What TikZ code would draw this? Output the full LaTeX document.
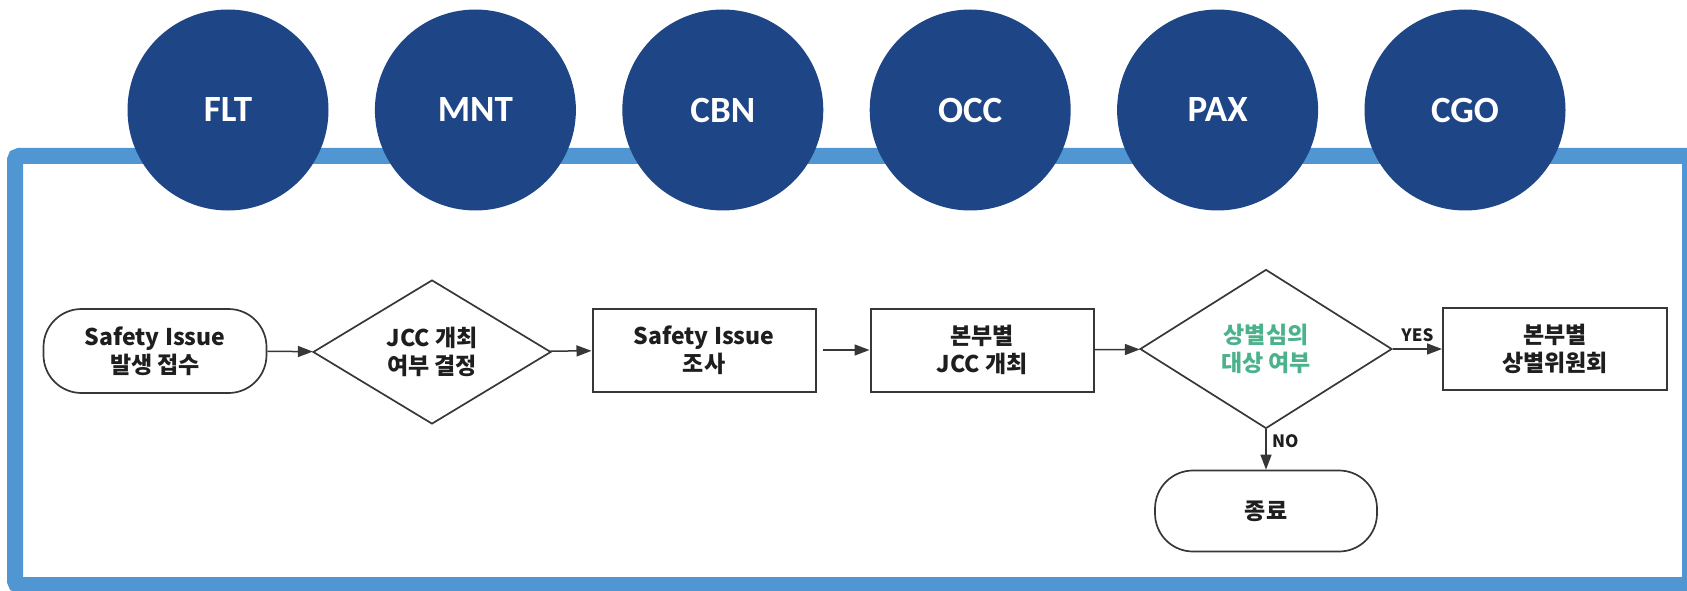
\documentclass[tikz,border=0pt]{standalone}
\usepackage{fontspec}
\setmainfont{Carlito}
\newfontfamily\krfont{Noto Sans CJK KR}
\usetikzlibrary{shapes.geometric,arrows.meta}
\definecolor{frameblue}{RGB}{80,150,210}
\definecolor{deptblue}{RGB}{30,69,133}
\definecolor{linegray}{RGB}{55,55,55}
\definecolor{textdark}{RGB}{30,30,30}
\definecolor{askgreen}{RGB}{75,178,140}
\newcommand{\flowfont}{\fontsize{23}{28}\krfont\bfseries}
\begin{document}
\begin{tikzpicture}[x=1pt,y=-1pt,
        dept/.style={circle,fill=deptblue,minimum size=201pt,inner sep=0pt,
            text=white,font=\fontsize{37}{40}\selectfont\bfseries},
        term/.style={draw=linegray,line width=1.7pt,rounded corners=38pt,
            minimum width=223pt,minimum height=84pt,align=center,
            text=textdark,font=\flowfont},
        proc/.style={draw=linegray,line width=2pt,rectangle,
            minimum width=223pt,minimum height=83pt,align=center,
            text=textdark,font=\flowfont},
        decide/.style={draw=linegray,line width=1.7pt,diamond,inner sep=0pt,
            align=center,text=textdark,font=\flowfont},
        link/.style={draw=linegray,line width=1.5pt,
            -{Triangle[length=15pt,width=11pt]}},
        tag/.style={text=textdark,font=\fontsize{17}{20}\krfont\bfseries}]
\useasboundingbox (0,0) rectangle (1687,591);

% outer frame
\begin{scope}
\clip (0,0) rectangle (1687,591);
\draw[frameblue,line width=16pt,rounded corners=4pt] (15,156) rectangle (1690,585);
\end{scope}

% departments
\foreach \name [count=\i from 0] in {FLT,MNT,CBN,OCC,PAX,CGO}
    \node[dept] (\name) at ({228+247.4*\i},110) {\name};

% flow
\node[term] (start) at (155,351) {Safety Issue\\발생 접수};
\node[decide,minimum width=238pt,minimum height=144pt] (jcc) at (432,352) {JCC 개최\\여부 결정};
\node[proc] (probe) at (704,350) {Safety Issue\\조사};
\node[proc] (meet) at (982,350) {본부별\\JCC 개최};
\node[decide,minimum width=252pt,minimum height=159pt,text=askgreen] (award) at (1266,349) {상별심의\\대상 여부};
\node[proc,minimum width=224pt,minimum height=82pt] (board) at (1555,349) {본부별\\상별위원회};
\node[term,minimum width=222pt,minimum height=81pt] (finish) at (1266,511) {종료};

\draw[link] (start) -- (jcc);
\draw[link] (jcc) -- (probe);
\draw[link,shorten <=6pt] (probe) -- (meet);
\draw[link] (meet) -- (award);
\draw[link] (award) -- node[tag,above=3pt] {YES} (board);
\draw[link] (award) -- node[tag,pos=0.3,right=2pt] {NO} (finish);
\end{tikzpicture}
\end{document}
